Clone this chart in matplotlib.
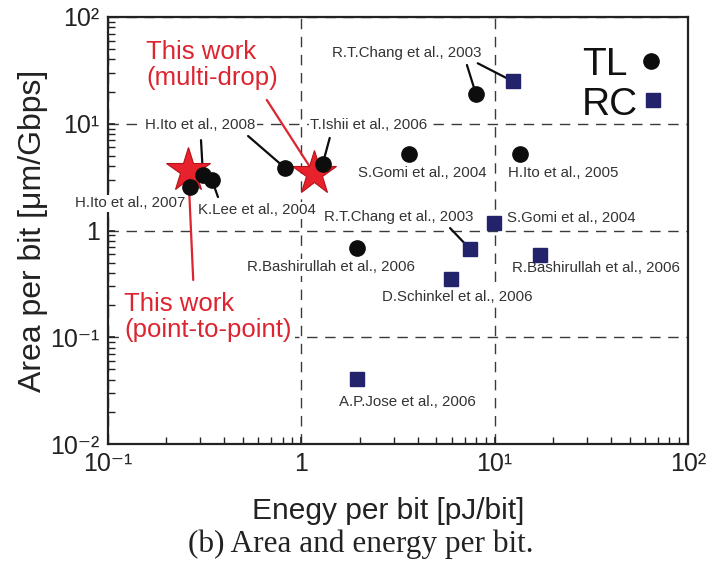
import matplotlib
matplotlib.use('Agg')
import matplotlib.pyplot as plt
from matplotlib.ticker import LogLocator, NullFormatter

plt.rcParams['font.family'] = ['Liberation Sans', 'DejaVu Sans']

# ---------------- data ----------------
tl_x = [0.265, 0.31, 0.345, 0.824, 1.29, 8.0, 3.6, 13.5, 1.94]
tl_y = [2.55, 3.3, 2.97, 3.85, 4.2, 19.0, 5.2, 5.2, 0.685]
tl_labels = ['H.Ito et al., 2007', 'H.Ito et al., 2008', 'K.Lee et al., 2004',
             'H.Ito et al., 2008', 'T.Ishii et al., 2006', 'R.T.Chang et al., 2003',
             'S.Gomi et al., 2004', 'H.Ito et al., 2005', 'R.Bashirullah et al., 2006']

rc_x = [12.4, 9.9, 7.46, 17.2, 5.94, 1.94]
rc_y = [25.0, 1.17, 0.67, 0.59, 0.35, 0.041]
rc_labels = ['R.T.Chang et al., 2003', 'S.Gomi et al., 2004', 'R.T.Chang et al., 2003',
             'R.Bashirullah et al., 2006', 'D.Schinkel et al., 2006', 'A.P.Jose et al., 2006']

star_x = [0.26, 1.16]
star_y = [3.69, 3.46]
star_labels = ['This work\n(point-to-point)', 'This work\n(multi-drop)']

legend_names = ['TL', 'RC']

x_ticks = [0.1, 1, 10, 100]
x_tick_labels = ['10⁻¹', '1', '10¹', '10²']
y_ticks = [0.01, 0.1, 1, 10, 100]
y_tick_labels = ['10⁻²', '10⁻¹', '1', '10¹', '10²']

# ---------------- layout (pixel offsets of labels / leader starts) ----------------
tl_label_off = [(-60, -16), None, (45, -30), (-85, 43), (46, 39), (-69, 41),
                (13, -19), (43, -19), (-26, -19)]
tl_leader = [None, (-2, 35), (6, -17), (-37, 32), (7, 26), (-9, 29), None, None, None]
rc_label_off = [None, (77, 5), (-71, 32), (56, -13), (6, -18), (50, -23)]
rc_leader = [(-35, 18), None, (-20, 21), None, None, None]
star_label_off = [(20, -147), (-102, 108)]
star_leader = [(5, -110), (-47, 73)]

BLACK = '#0d0d0d'
NAVY = '#23236b'
RED = '#e8222c'
RED_TXT = '#dc2530'
LABEL = '#333333'
DARK = '#222222'

fig = plt.figure(figsize=(7.09, 5.62), dpi=100)
ax = fig.add_axes([108 / 709, 1 - 444 / 562, 580 / 709, 427 / 562])
ax.set_xscale('log')
ax.set_yscale('log')
ax.set_xlim(0.1, 100)
ax.set_ylim(0.01, 100)

ax.set_axisbelow(True)
ax.grid(True, which='major', color='#3a3a3a', linestyle=(0, (7.5, 5.5)), linewidth=1.0)

ax.set_xticks(x_ticks, x_tick_labels)
ax.set_yticks(y_ticks, y_tick_labels)
ax.xaxis.set_minor_locator(LogLocator(base=10, subs=range(2, 10)))
ax.yaxis.set_minor_locator(LogLocator(base=10, subs=range(2, 10)))
ax.xaxis.set_minor_formatter(NullFormatter())
ax.yaxis.set_minor_formatter(NullFormatter())
ax.tick_params(which='both', direction='in', top=False, right=False,
               labelsize=18, pad=6, colors=DARK, labelcolor=DARK)
ax.tick_params(which='major', length=5, width=1.2)
ax.tick_params(which='minor', length=5, width=1.0)
for s in ax.spines.values():
    s.set_linewidth(1.6)
    s.set_color(DARK)

ax.set_xlabel('Enegy per bit [pJ/bit]', fontsize=21.5, color=DARK)
ax.xaxis.set_label_coords(0.483, -0.125)
ax.set_ylabel('Area per bit [μm/Gbps]', fontsize=23, color=DARK)
ax.yaxis.set_label_coords(-0.103, 0.5)

# markers
ax.plot(star_x, star_y, ls='', marker='*', color=RED, mec='#b5121b', mew=0.8, ms=33, zorder=5)
ax.plot(tl_x, tl_y, ls='', marker='o', color=BLACK, ms=11, zorder=6)
ax.plot(rc_x, rc_y, ls='', marker='s', color=NAVY, ms=10.5, zorder=6)


def annotate_set(xs, ys, labels, offs, leads, color, fs, lcolor):
    for x, y, lab, off, lead in zip(xs, ys, labels, offs, leads):
        if off is not None:
            ax.annotate(lab, xy=(x, y), xytext=off, textcoords='offset pixels',
                        ha='center', va='center', fontsize=fs, color=color,
                        bbox=dict(boxstyle='square,pad=0.1', fc='white', ec='none'),
                        zorder=3, annotation_clip=False)
        if lead is not None:
            ax.annotate('', xy=(x, y), xytext=lead, textcoords='offset pixels',
                        arrowprops=dict(arrowstyle='-', color=lcolor, lw=1.6,
                                        shrinkA=0, shrinkB=0),
                        zorder=4)


annotate_set(tl_x, tl_y, tl_labels, tl_label_off, tl_leader, LABEL, 10.8, BLACK)
annotate_set(rc_x, rc_y, rc_labels, rc_label_off, rc_leader, LABEL, 10.8, BLACK)

for x, y, lab, off, lead in zip(star_x, star_y, star_labels, star_label_off, star_leader):
    ax.annotate(lab, xy=(x, y), xytext=off, textcoords='offset pixels',
                ha='center', va='center', multialignment='left', linespacing=1.1,
                fontsize=18.5, color=RED_TXT,
                bbox=dict(boxstyle='square,pad=0.1', fc='white', ec='none'),
                zorder=3, annotation_clip=False)
    ax.annotate('', xy=(x, y), xytext=lead, textcoords='offset pixels',
                arrowprops=dict(arrowstyle='-', color=RED_TXT, lw=1.6,
                                shrinkA=0, shrinkB=0), zorder=4)

# legend (text left-aligned, key marker to the right)
leg_rows = [(legend_names[0], 0.864, 'o', BLACK, 11, 0.936, 0.897),
            (legend_names[1], 0.770, 's', NAVY, 10, 0.940, 0.806)]
for name, ybase, mk, col, ms, mx, my in leg_rows:
    ax.text(0.817, ybase, name, transform=ax.transAxes, fontsize=28, color='#111111',
            ha='left', va='baseline', zorder=7)
    ax.plot([mx], [my], ls='', marker=mk, color=col, ms=ms, transform=ax.transAxes,
            clip_on=False, zorder=7)

fig.text(0.509, 1 - 544 / 562, '(b) Area and energy per bit.', family='Liberation Serif',
         fontsize=22.5, ha='center', va='center', color=DARK)

fig.savefig('out.png', dpi=100)
